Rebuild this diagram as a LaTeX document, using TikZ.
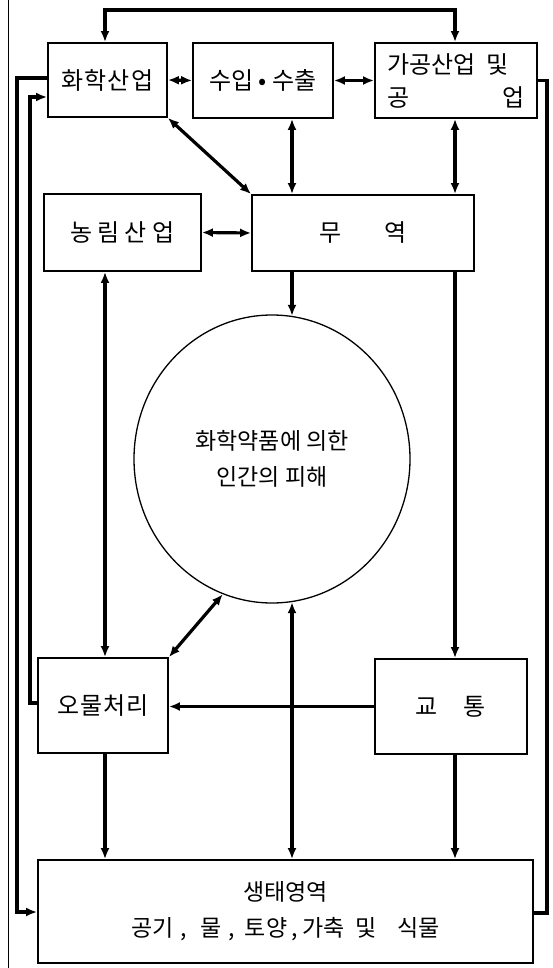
\documentclass[tikz,border=0pt]{standalone}
\usepackage{fontspec}
\newfontfamily\kr{Noto Sans CJK KR}
\usetikzlibrary{arrows.meta,shapes.geometric}
\begin{document}
\begin{tikzpicture}[x=1pt,y=-1pt,
  box/.style={draw,line width=1.8pt,rectangle,inner sep=0pt,font=\kr\fontsize{24}{34}\selectfont},
  conn/.style={line width=3.2pt},
  tip/.style={-{Latex[length=11pt,width=9pt]}},
  tips/.style={{Latex[length=11pt,width=9pt]}-{Latex[length=11pt,width=9pt]}}]
\useasboundingbox[fill=white] (0,0) rectangle (553,968);
\draw[line width=1pt] (8,0) -- (8,968);
% nodes
\node[box,minimum width=119pt,minimum height=74pt] (hh) at (107.5,80) {화\kern1pt 학\kern1pt 산\kern1pt 업};
\node[box,minimum width=140pt,minimum height=75pt] (su) at (263,80.5) {수입\kern5pt•\kern5pt 수출};
\node[box,minimum width=162pt,minimum height=75pt,font=\kr\fontsize{24}{33}\selectfont] (ga) at (456,80.5) {\parbox{138pt}{가공산업\hspace{11pt}및\\공\hfill 업}};
\node[box,minimum width=157pt,minimum height=77pt] (nong) at (122.5,232.5) {농\hspace{5pt}림\hspace{5pt}산\hspace{5pt}업};
\node[box,minimum width=222pt,minimum height=76pt] (mu) at (363,233) {무\hspace{42pt}역};
\node[box,ellipse,line width=1.3pt,minimum width=276pt,minimum height=288pt,align=center,font=\kr\fontsize{23}{36}\selectfont] (circ) at (272,459) {화학약품에 의한\\인간의 피해};
\node[box,minimum width=130pt,minimum height=95pt] (om) at (103,705.5) {오\kern1pt 물\kern1pt 처\kern1pt 리};
\node[box,minimum width=152pt,minimum height=95pt] (gyo) at (451,706.5) {교\hspace{26pt}통};
\node[box,minimum width=495pt,minimum height=103pt,align=center,font=\kr\fontsize{23}{36}\selectfont] (eco) at (285.5,911.5) {생태영역\\공기\hspace{7pt},\hspace{13pt}물\hspace{7pt},\hspace{10pt}토양\hspace{4pt},\hspace{5pt}가축\hspace{11pt}및\hspace{20pt}식물};
% routing coordinates
\coordinate (t1) at (105,10);
\coordinate (t2) at (455,10);
\coordinate (c1) at (292,0);
\coordinate (r1) at (547,80.5);
\coordinate (r2) at (547,913);
\coordinate (l1) at (17,78);
\coordinate (l2) at (17,912);
\coordinate (l3) at (30,97);
\coordinate (l4) at (30,703);
% connectors
\draw[conn,tips] (hh.north -| t1) -- (t1) -- (t2) -- (ga.north -| t2);
\draw[conn,tips] (hh.east) -- (su.west);
\draw[conn,tips] (su.east) -- (ga.west);
\draw[conn,tips] (hh.south east) -- (mu.north west);
\draw[conn,tips] (su.south -| c1) -- (mu.north -| c1);
\draw[conn,tips] (ga.south -| t2) -- (mu.north -| t2);
\draw[conn,tips] (nong.east) -- (mu.west);
\draw[conn,tip] (mu.south -| c1) -- ([yshift=-1.5pt]circ.north -| c1);
\draw[conn,tip] (mu.south -| t2) -- (gyo.north -| t2);
\draw[conn,tips] (nong.south -| t1) -- (om.north -| t1);
\draw[conn,tips] (circ.250) -- (om.north east);
\draw[conn,tips] ([yshift=1.5pt]circ.south -| c1) -- (eco.north -| c1);
\draw[conn,tip] (gyo.west) -- (gyo.west -| om.east);
\draw[conn,tip] (om.south -| t1) -- (eco.north -| t1);
\draw[conn,tip] (gyo.south -| t2) -- (eco.north -| t2);
\draw[conn] (ga.east) -- (r1) -- (r2) -- (r2 -| eco.east);
\draw[conn,tip] (hh.west |- l1) -- (l1) -- (l2) -- (l2 -| eco.west);
\draw[conn,tip] (om.west |- l4) -- (l4) -- (l3) -- (l3 -| hh.west);
\end{tikzpicture}
\end{document}
